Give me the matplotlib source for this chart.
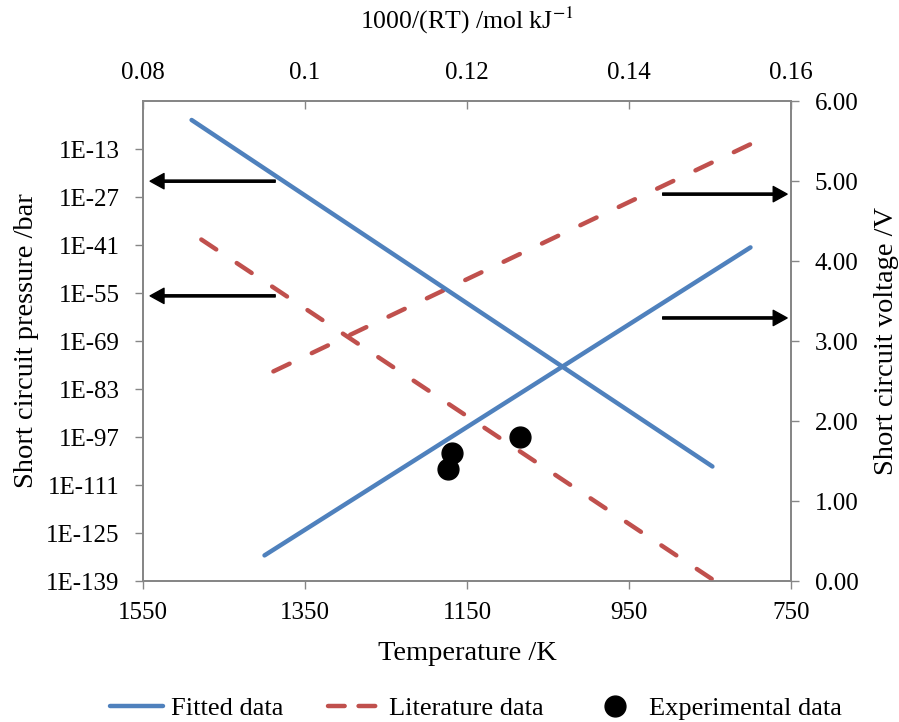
import numpy as np
import matplotlib
matplotlib.use("Agg")
from matplotlib import pyplot as plt
from matplotlib.lines import Line2D

plt.rcParams['font.family'] = ['Liberation Serif', 'DejaVu Serif']
plt.rcParams['mathtext.fontset'] = 'stix'
plt.rcParams['font.size'] = 18

# fitted data
rt_fit = [0.0860, 0.1503]            # 1000/(RT) /mol kJ-1
press_fit = [2.9e-5, 2.5e-106]       # bar
temp_fit = [1400, 800]               # K
volt_fit = [0.32, 4.17]              # V

# literature data
rt_lit = [0.0872, 0.1503]
press_lit = [4.0e-40, 3.0e-139]
temp_lit = [1389, 800]
volt_lit = [2.62, 5.46]

# experimental data
temp_exp = [1169, 1174, 1085]
volt_exp = [1.60, 1.40, 1.80]

p_ticks = [1e-139, 1e-125, 1e-111, 1e-97, 1e-83, 1e-69, 1e-55, 1e-41, 1e-27, 1e-13]
p_labels = ['1E-139', '1E-125', '1E-111', '1E-97', '1E-83', '1E-69', '1E-55', '1E-41', '1E-27', '1E-13']
t_ticks = [1550, 1350, 1150, 950, 750]
rt_ticks = [0.08, 0.10, 0.12, 0.14, 0.16]
rt_labels = ['0.08', '0.1', '0.12', '0.14', '0.16']
v_ticks = [0, 1, 2, 3, 4, 5, 6]

blue = '#4F81BD'
red = '#C0504D'
grey = '#868686'
lw = 3.2
title_size = 20.5

fig = plt.figure(figsize=(8.99, 7.22), dpi=100)
ax = fig.add_axes([143/899, 1-581/722, 648/899, 480/722])
ax.set_yscale('log')
ax.set_xlim(1550, 750)
ax.set_ylim(1e-139, 1e1)
ax.set_xticks(t_ticks)
ax.set_yticks(p_ticks)
ax.set_yticklabels(p_labels)
ax.yaxis.set_minor_locator(matplotlib.ticker.NullLocator())
ax.set_xlabel('Temperature /K', labelpad=12, fontsize=title_size)
ax.set_ylabel('Short circuit pressure /bar', labelpad=5, fontsize=title_size)
ax.tick_params(axis='x', direction='out', length=6, width=1, color=grey, pad=9, top=False)
ax.tick_params(axis='y', direction='out', length=6, width=1, color=grey, pad=11, right=False)

ax2 = ax.twinx()
ax2.set_ylim(0, 6)
ax2.set_yticks(v_ticks)
ax2.set_yticklabels(['%.2f' % v for v in v_ticks])
ax2.set_ylabel('Short circuit voltage /V', labelpad=11, fontsize=title_size)
ax2.tick_params(axis='y', direction='out', length=6, width=1, color=grey, pad=11)

ax3 = ax.twiny()
ax3.set_xlim(0.08, 0.16)
ax3.set_xticks(rt_ticks)
ax3.set_xticklabels(rt_labels)
ax3.set_xlabel('1000/(RT) /mol kJ$^{-1}$', labelpad=24, fontsize=18.5)
ax3.tick_params(axis='x', direction='in', length=6, width=1, color=grey, pad=12)

for a in (ax, ax2, ax3):
    for s in a.spines.values():
        s.set_color(grey)
        s.set_linewidth(1.1)

dash = (12.9 / lw, 17.7 / lw)

# pressure vs 1000/RT
ax3.plot(rt_fit, press_fit, color=blue, lw=lw, solid_capstyle='round')
ax3.plot(rt_lit, press_lit, color=red, lw=lw, dashes=dash, dash_capstyle='round')

# voltage vs temperature
ax2.plot(temp_fit, volt_fit, color=blue, lw=lw, solid_capstyle='round')
ax2.plot(temp_lit, volt_lit, color=red, lw=lw, dashes=dash, dash_capstyle='round')
ax2.plot(temp_exp, volt_exp, 'o', color='black', ms=15)

# arrows pointing to the matching axis
arrow = dict(facecolor='black', edgecolor='black', width=1.6, headwidth=11, headlength=10, shrink=0)
for y in (0.833, 0.594):
    ax3.annotate('', xy=(0.011, y), xytext=(0.204, y), xycoords='axes fraction', arrowprops=arrow)
for y in (0.806, 0.548):
    ax3.annotate('', xy=(0.994, y), xytext=(0.802, y), xycoords='axes fraction', arrowprops=arrow)

handles = [
    Line2D([], [], color=blue, lw=lw, solid_capstyle='round'),
    Line2D([], [], color=red, lw=lw, dashes=(12.0 / lw, 10.0 / lw), dash_capstyle='round'),
    Line2D([], [], color='black', marker='o', ls='none', ms=15),
]
fig.legend(handles, ['Fitted data', 'Literature data', 'Experimental data'],
           loc='center', bbox_to_anchor=(476/899, 1-708/722), ncol=3, frameon=False,
           fontsize=19, handlelength=2.0, handletextpad=0.3, columnspacing=1.7)

fig.savefig('out.png', dpi=100)
